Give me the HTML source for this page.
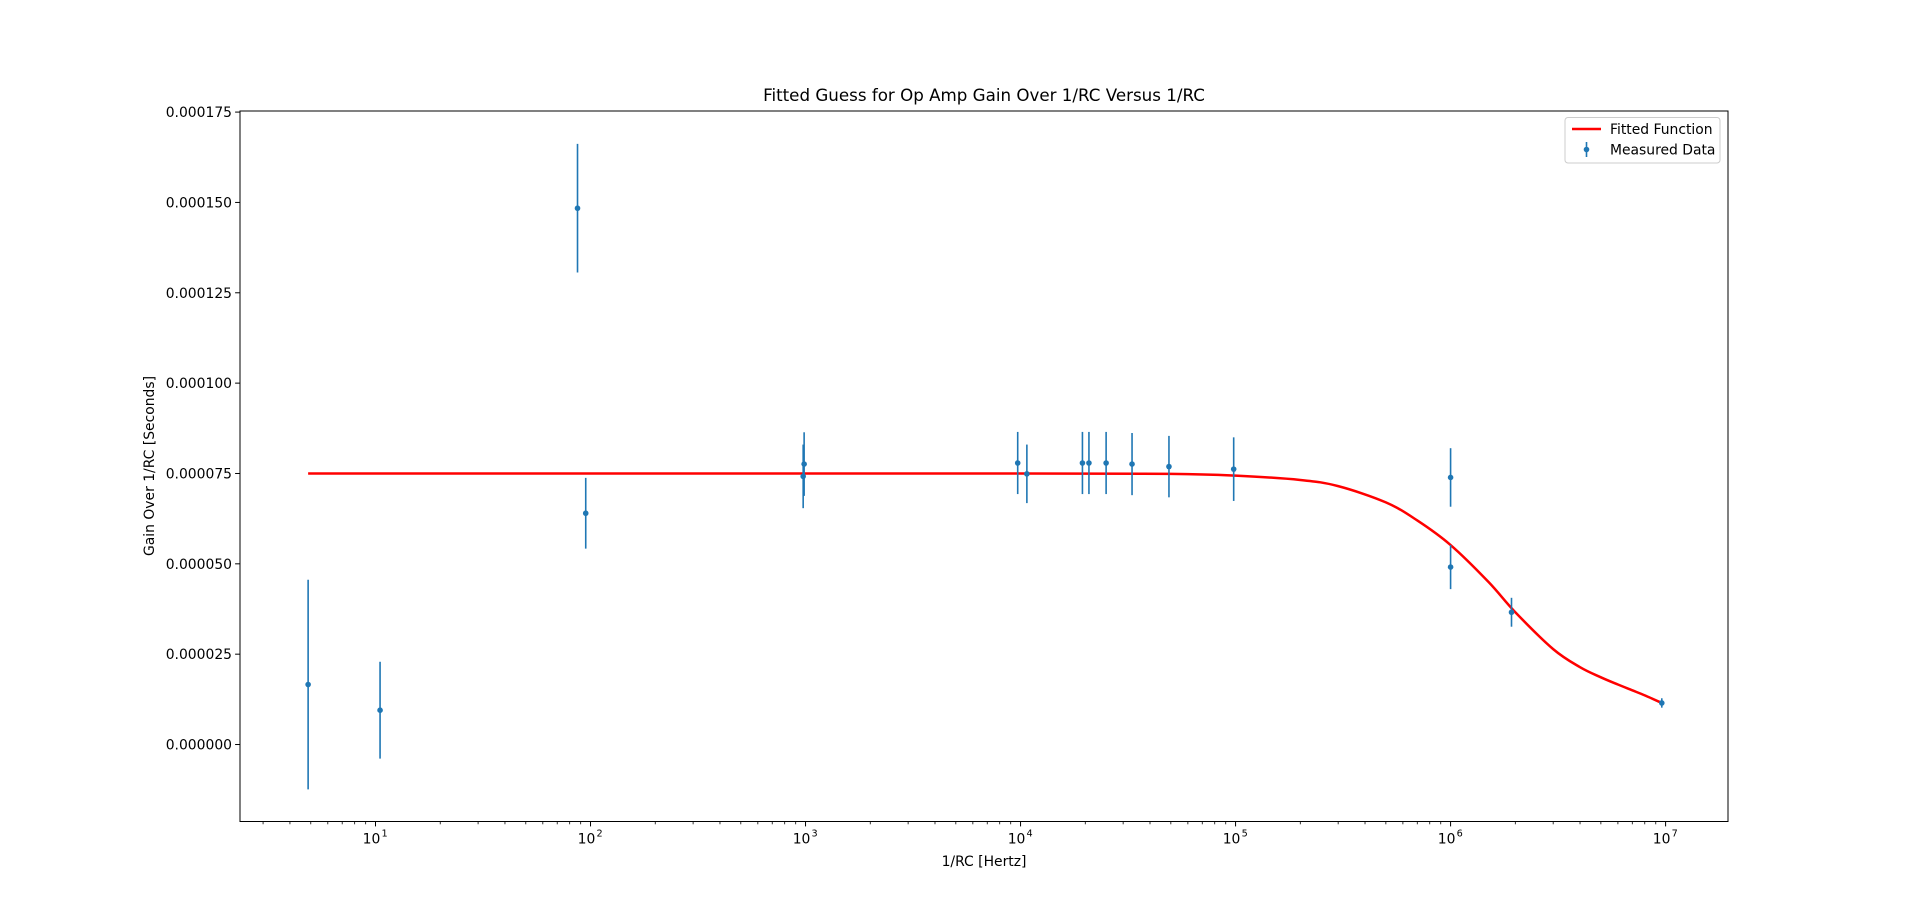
<!DOCTYPE html>
<html><head><meta charset="utf-8"><style>
html,body{margin:0;padding:0;background:#fff;}
svg{display:block;font-family:"DejaVu Sans","Liberation Sans",sans-serif;}
</style></head><body>
<svg id="chart" width="1920" height="923" xmlns="http://www.w3.org/2000/svg">
<rect width="1920" height="923" fill="#fff"/>
<text x="984" y="101" font-size="16.7" text-anchor="middle">Fitted Guess for Op Amp Gain Over 1/RC Versus 1/RC</text>
<text x="984" y="866" font-size="13.9" text-anchor="middle">1/RC [Hertz]</text>
<text transform="translate(154,466) rotate(-90)" font-size="13.9" text-anchor="middle">Gain Over 1/RC [Seconds]</text>
<g id="ticks"></g>
<g id="fit"></g>
<g id="data"></g>
<rect x="240" y="111" width="1488" height="710.5" fill="none" stroke="#000" stroke-width="1"/>
<g>
<rect x="1565" y="117.5" width="155" height="45.5" rx="3" fill="#fff" stroke="#ccc" stroke-width="1"/>
<line x1="1572" y1="129" x2="1601" y2="129" stroke="#ff0000" stroke-width="2.5"/>
<text x="1610" y="134" font-size="13.9">Fitted Function</text>
<line x1="1586.5" y1="142" x2="1586.5" y2="157" stroke="#1f77b4" stroke-width="1.6"/>
<circle cx="1586.5" cy="149.5" r="2.8" fill="#1f77b4"/>
<text x="1610" y="154.5" font-size="13.9">Measured Data</text>
</g>
</svg>
<script>
const xVals=[4.86,10.5,87,95,975,985,9.7e3,1.07e4,1.94e4,2.08e4,2.5e4,3.3e4,4.9e4,9.8e4,1e6,1e6,1.92e6,9.6e6];
const yVals=[16.6,9.5,148.4,64,74.2,77.6,77.9,74.9,77.9,77.9,77.9,77.6,76.9,76.2,73.9,49.1,36.6,11.5];
const yErrs=[29,13.4,17.8,9.8,8.8,8.8,8.6,8.1,8.6,8.6,8.6,8.6,8.5,8.8,8.1,6.1,4,1.3];
const fitX=[4.86,1e2,1e3,1e4,5e4,1e5,2e5,3e5,5e5,7e5,1e6,1.5e6,2e6,3e6,4e6,5e6,6e6,7e6,8e6,9.6e6];
const fitY=[75,75,75,75,74.9,74.4,73.2,71.5,67,62,55.2,45,36.6,26.4,21.4,18.6,16.6,15.0,13.6,11.5];
const yTicks=[0,25,50,75,100,125,150,175];
const yTickLabels=["0.000000","0.000025","0.000050","0.000075","0.000100","0.000125","0.000150","0.000175"];
const xDecades=[1,2,3,4,5,6,7];

const NS="http://www.w3.org/2000/svg";
const L=240,R=1728,T=111,B=821.5;
const xLogMin=0.3698,xLogMax=7.2902;
const yMin=-21.3,yMax=175.3;
function xs(v){return L+(Math.log10(v)-xLogMin)/(xLogMax-xLogMin)*(R-L);}
function ys(v){return B-(v-yMin)/(yMax-yMin)*(B-T);}
function mk(tag,attrs,parent){const e=document.createElementNS(NS,tag);for(const k in attrs)e.setAttribute(k,attrs[k]);parent.appendChild(e);return e;}

const ticks=document.getElementById('ticks');
yTicks.forEach((t,i)=>{
  const y=ys(t);
  const ln=mk('line',{x1:L-4.9,x2:L,y1:y,y2:y,stroke:'#000','stroke-width':1},ticks);
  
  
  const tx=mk('text',{x:L-8,y:y+5,'font-size':13.9,'text-anchor':'end'},ticks);
  tx.textContent=yTickLabels[i];
  
  
});
for(let d=0;d<=7;d++){
  for(let m=1;m<10;m++){
    const v=m*Math.pow(10,d);
    const lg=Math.log10(v);
    if(lg<xLogMin||lg>xLogMax)continue;
    const x=xs(v);
    const major=(m===1);
    const ln=mk('line',{x1:x,x2:x,y1:B,y2:B+(major?4.9:2.8),stroke:'#000','stroke-width':major?1:0.8},ticks);
    
    
  }
}
xDecades.forEach(d=>{
  const x=xs(Math.pow(10,d));
  const tx=mk('text',{x:x-4,y:B+22,'font-size':13.9,'text-anchor':'middle'},ticks);
  tx.textContent='10';
  
  
  const sp=mk('text',{x:x+6,y:B+15,'font-size':9.7,'text-anchor':'start'},ticks);
  sp.textContent=String(d);
  
  
});

const fit=document.getElementById('fit');
const px=fitX.map(xs),py=fitY.map(ys);
let d='M'+px[0]+','+py[0];
for(let i=0;i<px.length-1;i++){
  const x0=px[Math.max(i-1,0)],y0=py[Math.max(i-1,0)];
  const x3=px[Math.min(i+2,px.length-1)],y3=py[Math.min(i+2,px.length-1)];
  const c1x=px[i]+(px[i+1]-x0)/6,c1y=py[i]+(py[i+1]-y0)/6;
  const c2x=px[i+1]-(x3-px[i])/6,c2y=py[i+1]-(y3-py[i])/6;
  d+=' C'+c1x+','+c1y+' '+c2x+','+c2y+' '+px[i+1]+','+py[i+1];
}
const path=mk('path',{d:d,fill:'none',stroke:'#ff0000','stroke-width':2.5},fit);



const dg=document.getElementById('data');
xVals.forEach((xv,i)=>{
  const x=xs(xv);
  const eb=mk('line',{x1:x,x2:x,y1:ys(yVals[i]+yErrs[i]),y2:ys(yVals[i]-yErrs[i]),stroke:'#1f77b4','stroke-width':1.6},dg);
  
  
  const c=mk('circle',{cx:x,cy:ys(yVals[i]),r:2.8,fill:'#1f77b4'},dg);
  
  
});
</script>
</body></html>
